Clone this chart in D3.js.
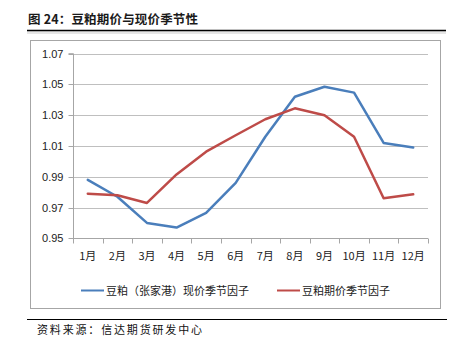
<!DOCTYPE html>
<html><head><meta charset="utf-8">
<script src="https://cdn.jsdelivr.net/npm/d3@7/dist/d3.min.js"></script>
<style>body{margin:0;background:#fff}svg{display:block}</style>
</head><body><div id="c"></div>
<script>
const months = ["1月","2月","3月","4月","5月","6月","7月","8月","9月","10月","11月","12月"];
const spotFactor = [0.988,0.977,0.960,0.957,0.9665,0.986,1.016,1.042,1.0485,1.0447,1.012,1.009];
const futuresFactor = [0.979,0.978,0.973,0.9915,1.0063,1.017,1.0274,1.0345,1.030,1.016,0.976,0.9786];
const yTicks = [0.95,0.97,0.99,1.01,1.03,1.05,1.07];
const seriesNames = ["豆粕（张家港）现价季节因子","豆粕期价季节因子"];
const colors = ["#4a7ebb","#be4b48"];
const titleText = "图 24：豆粕期价与现价季节性";
const sourceText = "资料来源：信达期货研发中心";

const W=459,H=341;
const svg=d3.select("#c").append("svg").attr("width",W).attr("height",H);
const font="'Noto Sans CJK SC','DejaVu Sans',sans-serif";

// title
svg.append("text").attr("x",28).attr("y",24).attr("font-family",font).attr("font-weight","bold")
  .attr("font-size",12.5).attr("fill","#1a1a1a").attr("textLength",170).attr("lengthAdjust","spacing").text(titleText);
// shadow + line
svg.append("rect").attr("x",27).attr("y",31).attr("width",419).attr("height",3).attr("fill","#e6e6e6");
svg.append("line").attr("x1",27).attr("x2",446).attr("y1",30.5).attr("y2",30.5).attr("stroke","#000").attr("stroke-width",1.5);

// chart box
svg.append("rect").attr("x",30.5).attr("y",40.5).attr("width",410).attr("height",268).attr("fill","#fff").attr("stroke","#a6a6a6").attr("stroke-width",1);

const x0=73,x1=428,y0=238.3,y1=53.7;
const xb=d3.scaleBand().domain(months).range([x0,x1]);
const y=d3.scaleLinear().domain([0.95,1.07]).range([y0,y1]);

// gridlines
svg.append("g").selectAll("line").data(yTicks.slice(1)).join("line")
  .attr("x1",x0).attr("x2",x1).attr("y1",d=>Math.round(y(d))+0.5).attr("y2",d=>Math.round(y(d))+0.5)
  .attr("stroke","#bfbfbf").attr("stroke-width",1);

// y axis
const ya=svg.append("g").attr("transform",`translate(${x0+0.5},0)`)
  .call(d3.axisLeft(y).tickValues(yTicks).tickFormat(d3.format(".2f")).tickSize(5).tickPadding(5));
ya.select(".domain").attr("stroke","#a6a6a6").attr("d",`M-5,${y1}H0V${y0}`);
ya.selectAll(".tick line").attr("stroke","#a6a6a6");
ya.selectAll(".tick").attr("transform",d=>`translate(0,${Math.round(y(d))+0.5})`);
ya.selectAll("text").attr("font-family","'Liberation Sans',Arial,sans-serif").attr("font-size",11).attr("fill","#222");

// x axis
const xa=svg.append("g").attr("transform",`translate(0,${Math.round(y0)+0.5})`);
xa.append("line").attr("x1",x0).attr("x2",x1).attr("stroke","#a6a6a6");
const tickPos=months.map(m=>xb(m)).concat([x1]);
xa.selectAll("line.t").data(tickPos).join("line").attr("class","t")
  .attr("x1",d=>Math.round(d)+0.5).attr("x2",d=>Math.round(d)+0.5).attr("y1",0).attr("y2",5).attr("stroke","#a6a6a6");
xa.selectAll("text").data(months).join("text")
  .attr("x",d=>xb(d)+xb.bandwidth()/2).attr("y",21).attr("text-anchor","middle")
  .attr("font-family",font).attr("font-size",11).attr("fill","#222").text(d=>d);

// lines
const line=d3.line().x((d,i)=>xb(months[i])+xb.bandwidth()/2).y(d=>y(d));
[spotFactor,futuresFactor].forEach((s,i)=>{
  svg.append("path").attr("d",line(s)).attr("fill","none").attr("stroke",colors[i])
    .attr("stroke-width",2.5).attr("stroke-linejoin","round").attr("stroke-linecap","round");
});

// legend
const lx=[81,277];
seriesNames.forEach((n,i)=>{
  svg.append("line").attr("x1",lx[i]).attr("x2",lx[i]+23).attr("y1",290.5).attr("y2",290.5).attr("stroke",colors[i]).attr("stroke-width",2);
  svg.append("text").attr("x",lx[i]+25).attr("y",294.5).attr("font-family",font).attr("font-size",11).attr("fill","#222").text(n);
});

// bottom line & source
svg.append("line").attr("x1",27).attr("x2",447).attr("y1",319.5).attr("y2",319.5).attr("stroke","#000").attr("stroke-width",1);
svg.append("text").attr("x",37).attr("y",334).attr("font-family",font).attr("font-size",11).attr("fill","#111")
  .attr("textLength",165).attr("lengthAdjust","spacing").text(sourceText);
</script></body></html>
